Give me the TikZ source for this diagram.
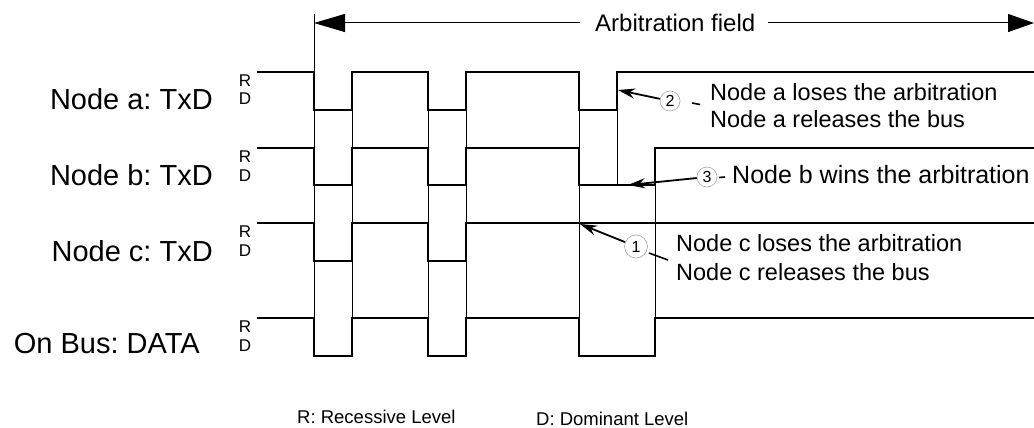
\documentclass[tikz,border=0pt]{standalone}
\usepackage{fontspec}
\setmainfont{Liberation Sans}
\usetikzlibrary{arrows.meta}
\frenchspacing
\begin{document}
\begin{tikzpicture}[x=1pt,y=-1pt,
  sig/.style={line width=2.6pt, line join=miter},
  guide/.style={line width=0.9pt},
  lbl/.style={font=\fontsize{29}{31}\selectfont, anchor=base east, inner sep=0},
  lvl/.style={font=\fontsize{17}{18}\selectfont, anchor=base, inner sep=0},
  ann/.style={font=\fontsize{23.5}{26}\selectfont, anchor=base west, inner sep=0},
  key/.style={font=\fontsize{18.5}{20}\selectfont, anchor=base west, inner sep=0},
  num/.style={circle, draw=black!35, line width=0.6pt, minimum size=20pt, inner sep=0, font=\fontsize{16}{16}\selectfont},
  callout/.style={line width=1.8pt, -{Stealth[length=17pt,width=10pt]}},
  leader/.style={line width=1.6pt},
  span/.style={line width=1pt, -{Triangle[length=31pt,width=18pt]}},
  ]
\useasboundingbox (0,0) rectangle (1034,428);

% guide lines
\draw[guide] (314,14) -- (314,356);
\foreach \x in {352,428,466,579} \draw[guide] (\x,72) -- (\x,356);
\draw[guide] (617,72) -- (617,185);
\draw[guide] (655,148) -- (655,356);

% signals
\draw[sig] (257,72) -| (314,110) -| (352,72) -| (428,110) -| (466,72) -| (579,110) -| (617,72) -- (1034,72);
\draw[sig] (257,148) -| (314,185) -| (352,148) -| (428,185) -| (466,148) -| (579,185) -| (655,148) -- (1034,148);
\draw[sig] (257,223) -| (314,261) -| (352,223) -| (428,261) -| (466,223) -- (1034,223);
\draw[sig] (257,318) -| (314,356) -| (352,318) -| (428,356) -| (466,318) -| (579,356) -| (655,318) -- (1034,318);

% arbitration field
\node[ann, font=\fontsize{24}{26}\selectfont] (af) at (595,31.5) {Arbitration field};
\coordinate (afl) at (580,23);
\coordinate (afr) at (768,23);
\coordinate (ls) at (314,23);
\coordinate (rs) at (1034,23);
\draw[span] (afl) -- (ls);
\draw[line width=1pt, -{Triangle[length=26pt,width=18pt]}] (afr) -- (rs);

% row labels
\node[lbl] (la) at (213,110) {Node a: TxD};
\node[lbl] (lb) at (213,185) {Node b: TxD};
\node[lbl] (lc) at (213,261) {Node c: TxD};
\node[lbl] (lbus) at (200,353) {On Bus: DATA};

% R / D
\node[lvl] (ra) at (245,86) {R};
\node[lvl] (da) at (245,105) {D};
\node[lvl] (rb) at (245,162) {R};
\node[lvl] (db) at (245,181) {D};
\node[lvl] (rc) at (245,237) {R};
\node[lvl] (dc) at (245,256) {D};
\node[lvl] (rbus) at (245,332) {R};
\node[lvl] (dbus) at (245,351) {D};

% callouts
\node[num] (n2) at (670,101) {2};
\coordinate (t2) at (618,90);
\draw[callout] (n2) -- (t2);
\coordinate (d2a) at (692,103);
\coordinate (d2b) at (700,104.5);
\draw[leader] (d2a) -- (d2b);
\node[ann] (a2a) at (710,100) {Node a loses the arbitration};
\node[ann] (a2b) at (710,127) {Node a releases the bus};

\node[num] (n3) at (707,177) {3};
\coordinate (t3) at (628,185);
\draw[callout] (n3) -- (t3);
\coordinate (d3a) at (719,177.5);
\coordinate (d3b) at (725,177);
\draw[leader] (d3a) -- (d3b);
\node[ann, font=\fontsize{25}{27}\selectfont] (a3) at (732,183) {Node b wins the arbitration};

\node[num, minimum size=23pt] (n1) at (636,246.5) {1};
\coordinate (t1) at (580,224);
\draw[callout] (n1) -- (t1);
\coordinate (d1a) at (649,253);
\coordinate (d1b) at (668,260);
\draw[leader] (d1a) -- (d1b);
\node[ann] (a1a) at (676,251) {Node c loses the arbitration};
\node[ann] (a1b) at (676,280) {Node c releases the bus};

% key
\node[key] (kr) at (297,423) {R: Recessive Level};
\node[key] (kd) at (536,425) {D: Dominant Level};
\end{tikzpicture}
\end{document}
